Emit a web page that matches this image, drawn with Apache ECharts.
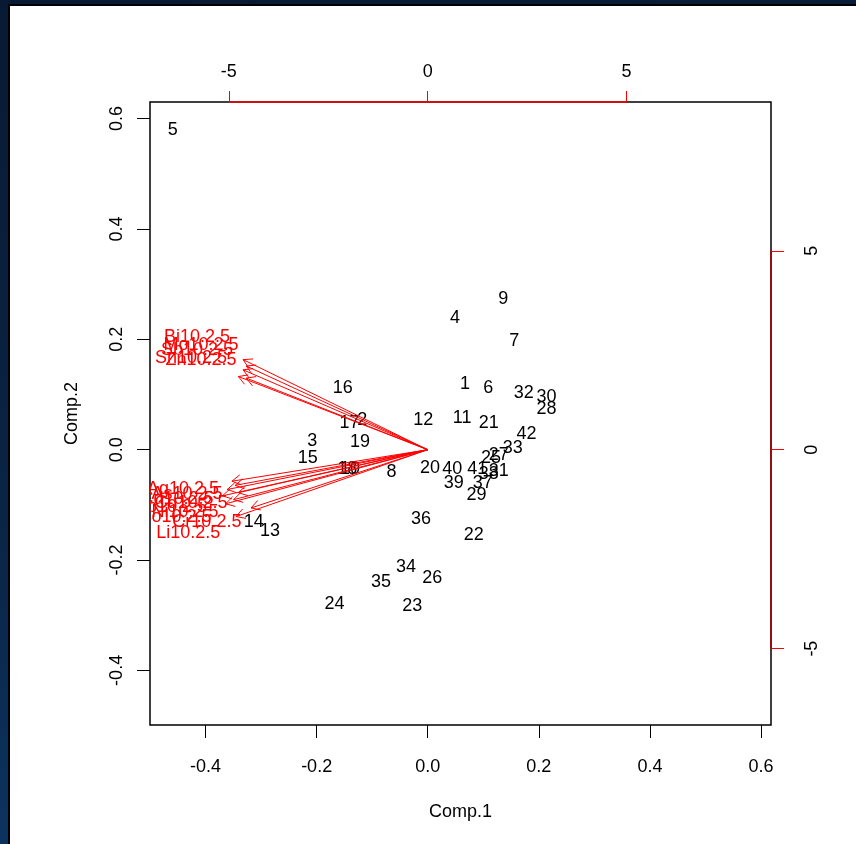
<!DOCTYPE html>
<html><head><meta charset="utf-8">
<script src="https://cdn.jsdelivr.net/npm/echarts@6/dist/echarts.min.js"></script>
<style>
html,body{margin:0;padding:0;width:856px;height:844px;overflow:hidden;}
body{background:linear-gradient(170deg,#081a33 0%,#0a2547 55%,#0d3a6b 100%);position:relative;}
#panel{position:absolute;left:8px;top:4px;width:848px;height:840px;background:#fff;border-left:2px solid #000;border-top:2px solid #000;box-sizing:border-box;}
#chart{position:absolute;left:0;top:0;width:856px;height:844px;}
</style></head>
<body><div id="panel"></div><div id="chart"></div>
<script>
// Observation scores (Comp.1, Comp.2) with their labels
const obsLabels = ['1','2','3','4','5','6','7','8','9','10','11','12','13','14','15','16','17','18','19','20','21','22','23','24','25','26','27','28','29','30','31','32','33','34','35','36','37','38','39','40','41','42'];
const obsComp1 = [0.067,-0.118,-0.208,0.049,-0.459,0.109,0.156,-0.065,0.136,-0.140,0.062,-0.008,-0.284,-0.313,-0.216,-0.153,-0.141,-0.145,-0.122,0.004,0.110,0.083,-0.028,-0.168,0.114,0.008,0.128,0.214,0.088,0.214,0.128,0.173,0.153,-0.039,-0.084,-0.012,0.099,0.110,0.047,0.044,0.089,0.178];
const obsComp2 = [0.118,0.054,0.015,0.239,0.580,0.111,0.197,-0.040,0.273,-0.036,0.058,0.054,-0.148,-0.132,-0.016,0.112,0.048,-0.035,0.014,-0.034,0.048,-0.155,-0.283,-0.279,-0.015,-0.233,-0.010,0.073,-0.083,0.095,-0.039,0.103,0.003,-0.213,-0.240,-0.126,-0.061,-0.045,-0.061,-0.035,-0.035,0.028];
// Variable loadings (secondary scale) with their labels
const varNames = ['Bi10.2.5','Mo10.2.5','Sb10.2.5','Sn10.2.5','Zn10.2.5','Ag10.2.5','As10.2.5','Cd10.2.5','Cu10.2.5','Pb10.2.5','Ni10.2.5','Co10.2.5','Cr10.2.5','Li10.2.5'];
const varComp1 = [-5.80,-5.70,-5.80,-5.95,-5.70,-6.15,-6.05,-6.30,-5.95,-6.45,-6.10,-6.35,-5.55,-6.02];
const varComp2 = [2.83,2.63,2.51,2.30,2.25,-0.99,-1.12,-1.25,-1.35,-1.45,-1.57,-1.70,-1.83,-2.10];
// Tick values
const xTicks = [-0.4,-0.2,0.0,0.2,0.4,0.6];
const yTicks = [-0.4,-0.2,0.0,0.2,0.4,0.6];
const x2Ticks = [-5,0,5];
const y2Ticks = [-5,0,5];
const arrowFrac = 0.8;

const FONT = '"Liberation Sans", Arial, sans-serif';
const chart = echarts.init(document.getElementById('chart'), null, {renderer:'canvas'});

function baseAxis(extra){
  return Object.assign({
    type:'value', splitLine:{show:false},
    axisLine:{show:false, onZero:false},
    axisTick:{show:true, length:13, lineStyle:{color:'#000', width:1}},
    axisLabel:{color:'#000', fontSize:18, fontFamily:FONT},
    nameTextStyle:{color:'#000', fontSize:18, fontFamily:FONT}
  }, extra);
}

const option = {
  animation:false,
  backgroundColor:'transparent',
  grid:{left:150, right:85, top:102, bottom:119, show:true, borderColor:'#000', borderWidth:1.5, backgroundColor:'transparent'},
  xAxis:[
    baseAxis({position:'bottom', min:-0.5, max:0.618,
      axisTick:{show:true, length:13, customValues:xTicks, lineStyle:{color:'#000'}},
      axisLabel:{color:'#000', fontSize:18, fontFamily:FONT, margin:33, customValues:xTicks, formatter:v=>Number(v).toFixed(1)},
      name:'Comp.1', nameLocation:'middle', nameGap:78}),
    baseAxis({position:'top', min:-6.98, max:8.63,
      axisTick:{show:true, length:11, customValues:x2Ticks, lineStyle:{color:'#ff0000'}},
      axisLabel:{color:'#000', fontSize:18, fontFamily:FONT, margin:21, customValues:x2Ticks, formatter:v=>String(v)}})
  ],
  yAxis:[
    baseAxis({position:'left', min:-0.499, max:0.630,
      axisTick:{show:true, length:13, customValues:yTicks, lineStyle:{color:'#000'}},
      axisLabel:{color:'#000', fontSize:18, fontFamily:FONT, margin:24, rotate:90, customValues:yTicks, formatter:v=>Number(v).toFixed(1)},
      name:'Comp.2', nameLocation:'middle', nameGap:69, nameRotate:90}),
    baseAxis({position:'right', min:-6.92, max:8.74,
      axisTick:{show:true, length:13, customValues:y2Ticks, lineStyle:{color:'#ff0000'}},
      axisLabel:{color:'#000', fontSize:18, fontFamily:FONT, margin:32, rotate:90, customValues:y2Ticks, formatter:v=>String(v)}})
  ],
  series:[
    {
      type:'custom', xAxisIndex:0, yAxisIndex:0, clip:true,
      data: obsComp1.map((v,i)=>[v, obsComp2[i]]),
      renderItem:(params, api)=>{
        const p = api.coord([api.value(0), api.value(1)]);
        return {type:'text', x:p[0], y:p[1], style:{text:obsLabels[params.dataIndex], fill:'#000', font:'18px '+FONT, textAlign:'center', textVerticalAlign:'middle'}};
      }
    },
    {
      type:'custom', xAxisIndex:1, yAxisIndex:1, clip:true,
      data: varComp1.map((v,i)=>[v, varComp2[i]]),
      renderItem:(params, api)=>{
        const p = api.coord([api.value(0), api.value(1)]);
        return {type:'text', x:p[0], y:p[1], style:{text:varNames[params.dataIndex], fill:'#ff0000', font:'18px '+FONT, textAlign:'center', textVerticalAlign:'middle'}};
      }
    },
    {
      type:'custom', xAxisIndex:1, yAxisIndex:1, clip:true,
      data: varComp1.map((v,i)=>[v, varComp2[i]]),
      renderItem:(params, api)=>{
        const o = api.coord([0,0]);
        const t = api.coord([api.value(0)*arrowFrac, api.value(1)*arrowFrac]);
        const dx = t[0]-o[0], dy = t[1]-o[1];
        const len = Math.sqrt(dx*dx+dy*dy);
        const ux = dx/len, uy = dy/len;
        const L = 10, a = Math.PI/6;
        const c = Math.cos(a), s = Math.sin(a);
        const h1 = [t[0]-L*(ux*c - uy*s), t[1]-L*(ux*s + uy*c)];
        const h2 = [t[0]-L*(ux*c + uy*s), t[1]-L*(-ux*s + uy*c)];
        return {type:'group', children:[
          {type:'line', shape:{x1:o[0], y1:o[1], x2:t[0], y2:t[1]}, style:{stroke:'#ff0000', lineWidth:1}},
          {type:'polyline', shape:{points:[h1, t, h2]}, style:{stroke:'#ff0000', lineWidth:1, fill:null}}
        ]};
      }
    },
    {
      type:'custom', xAxisIndex:1, yAxisIndex:1, clip:false,
      data:[[0,0]],
      renderItem:(params, api)=>{
        const cs = params.coordSys;
        const a = api.coord([x2Ticks[0], 0]);
        const b = api.coord([x2Ticks[x2Ticks.length-1], 0]);
        const c = api.coord([0, y2Ticks[0]]);
        const d = api.coord([0, y2Ticks[y2Ticks.length-1]]);
        const top = cs.y, right = cs.x + cs.width;
        return {type:'group', children:[
          {type:'line', shape:{x1:a[0], y1:top, x2:b[0], y2:top}, style:{stroke:'#ff0000', lineWidth:1.5}},
          {type:'line', shape:{x1:right, y1:c[1], x2:right, y2:d[1]}, style:{stroke:'#b00000', lineWidth:1.5}}
        ]};
      }
    }
  ]
};
chart.setOption(option);
</script>
</body></html>
